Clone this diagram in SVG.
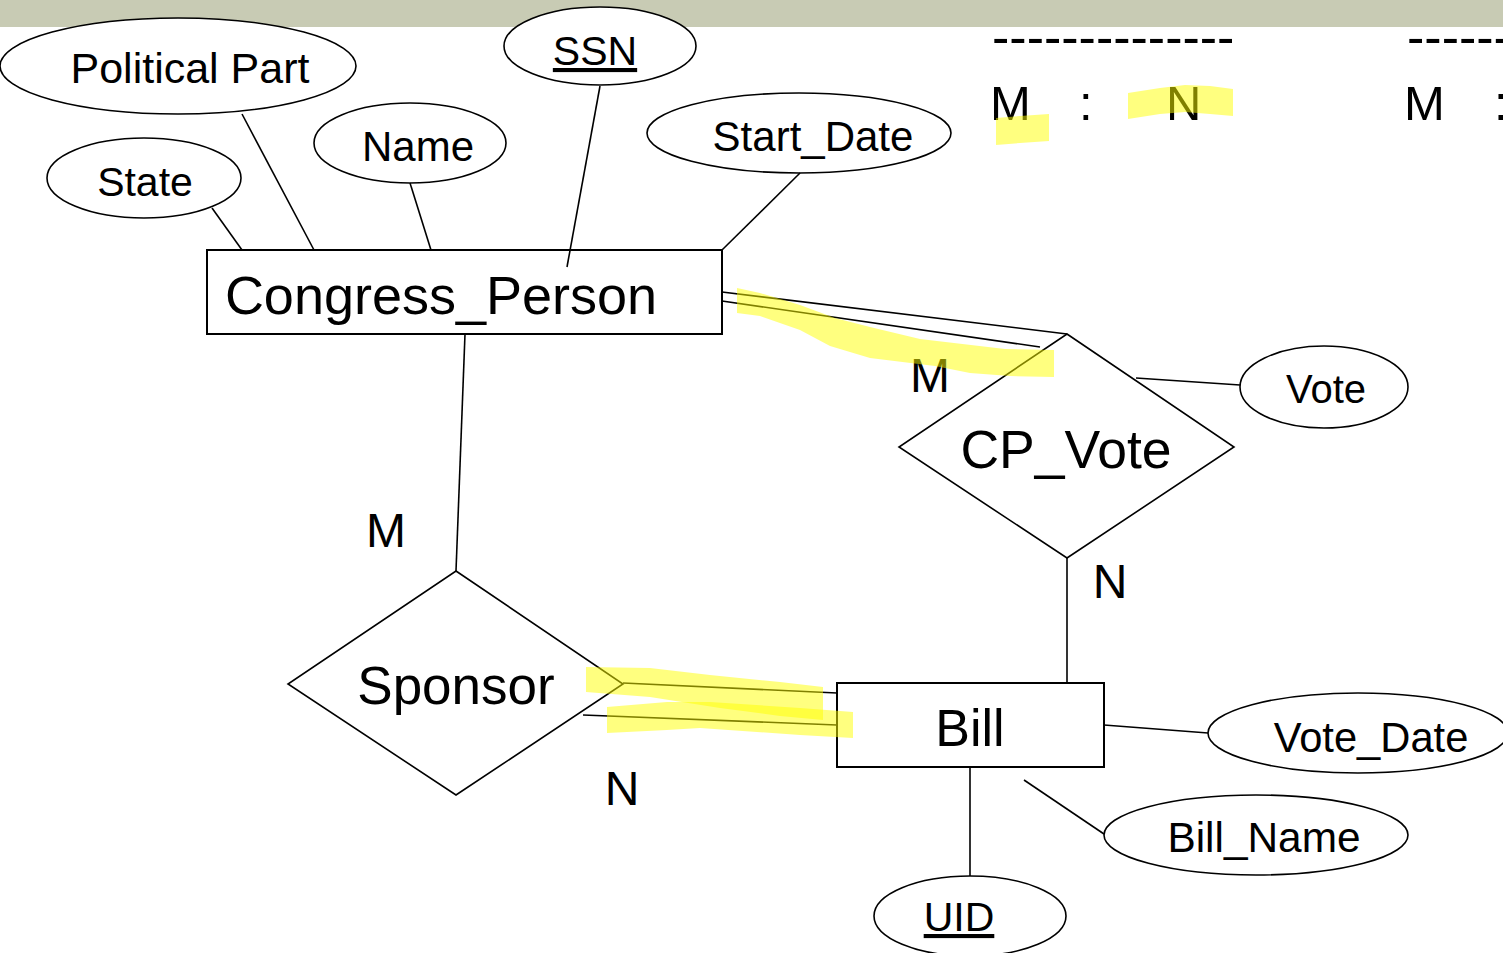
<svg xmlns="http://www.w3.org/2000/svg" width="1503" height="953" viewBox="0 0 1503 953">
<style>
  text { font-family: "Liberation Sans", Arial, sans-serif; fill: #000; }
  .c { text-anchor: middle; }
  .shape { fill: #fff; stroke: #000; stroke-width: 1.6; }
  .ent { fill: #fff; stroke: #000; stroke-width: 2; }
  .ln { stroke: #000; stroke-width: 1.6; fill: none; }
  .hl { fill: #ffff00; fill-opacity: 0.5; stroke: none; }
  .u { text-decoration: underline; }
</style>
<rect x="0" y="0" width="1503" height="953" fill="#fff"/>
<rect x="0" y="0" width="1503" height="27" fill="#c8cbb4"/>

<g id="political_part">
  <ellipse class="shape" cx="178" cy="66" rx="178" ry="48"/>
  <text class="c" x="190" y="83" font-size="43">Political Part</text>
</g>
<g id="ssn">
  <ellipse class="shape" cx="600" cy="46" rx="96" ry="39"/>
  <text class="c u" x="595" y="65" font-size="41">SSN</text>
</g>
<g id="name">
  <ellipse class="shape" cx="410" cy="143" rx="96" ry="40"/>
  <text class="c" x="418" y="161" font-size="42">Name</text>
</g>
<g id="state">
  <ellipse class="shape" cx="144" cy="178" rx="97" ry="40"/>
  <text class="c" x="145" y="196" font-size="41">State</text>
</g>
<g id="start_date">
  <ellipse class="shape" cx="799" cy="133" rx="152" ry="40"/>
  <text class="c" x="813" y="151" font-size="42">Start_Date</text>
</g>
<g id="congress_person">
  <rect class="ent" x="207" y="250" width="515" height="84"/>
  <text class="c" x="441" y="314" font-size="54">Congress_Person</text>
</g>
<g id="cp_vote">
  <polygon class="shape" points="1067,334 1234,447 1067,558 899,447"/>
  <text class="c" x="1066" y="468" font-size="53.5">CP_Vote</text>
</g>
<g id="vote">
  <ellipse class="shape" cx="1324" cy="387" rx="84" ry="41"/>
  <text class="c" x="1326" y="403" font-size="40">Vote</text>
</g>
<g id="sponsor">
  <polygon class="shape" points="456,571 623,684 456,795 288,684"/>
  <text class="c" x="456" y="704" font-size="53">Sponsor</text>
</g>
<g id="bill">
  <rect class="ent" x="837" y="683" width="267" height="84"/>
  <text class="c" x="970" y="746" font-size="52">Bill</text>
</g>
<g id="vote_date">
  <ellipse class="shape" cx="1358" cy="733" rx="150" ry="40"/>
  <text class="c" x="1371" y="752" font-size="41.7">Vote_Date</text>
</g>
<g id="bill_name">
  <ellipse class="shape" cx="1256" cy="835" rx="152" ry="40"/>
  <text class="c" x="1264" y="852" font-size="42.4">Bill_Name</text>
</g>
<g id="uid">
  <ellipse class="shape" cx="970" cy="916" rx="96" ry="40"/>
  <text class="c u" x="959" y="931" font-size="41">UID</text>
</g>

<g id="connectors">
  <line class="ln" x1="212" y1="208" x2="242" y2="250"/>
  <line class="ln" x1="242" y1="114" x2="314" y2="250"/>
  <line class="ln" x1="410" y1="183" x2="431" y2="250"/>
  <line class="ln" x1="600" y1="86" x2="567" y2="267"/>
  <line class="ln" x1="800" y1="173" x2="722" y2="250"/>
  <line class="ln" x1="722" y1="292" x2="1067" y2="334"/>
  <line class="ln" x1="722" y1="301" x2="1040" y2="347"/>
  <line class="ln" x1="465" y1="334" x2="456" y2="571"/>
  <line class="ln" x1="1067" y1="558" x2="1067" y2="683"/>
  <line class="ln" x1="1136" y1="378" x2="1240" y2="385"/>
  <line class="ln" x1="623" y1="683" x2="837" y2="693"/>
  <line class="ln" x1="583" y1="715" x2="837" y2="725"/>
  <line class="ln" x1="1104" y1="725" x2="1208" y2="733"/>
  <line class="ln" x1="1024" y1="780" x2="1104" y2="834"/>
  <line class="ln" x1="970" y1="767" x2="970" y2="876"/>
</g>

<g id="cardinalities">
  <text class="c" x="930" y="392" font-size="48">M</text>
  <text class="c" x="386" y="547" font-size="48">M</text>
  <text class="c" x="1110" y="598" font-size="48">N</text>
  <text class="c" x="622" y="805" font-size="48">N</text>
</g>

<g id="legend">
  <text x="992" y="55" font-size="52">--------------</text>
  <text x="1407" y="55" font-size="52">-------</text>
  <text y="120" font-size="49"><tspan x="990">M</tspan><tspan x="1079">:</tspan><tspan x="1166">N</tspan></text>
  <text y="120" font-size="49"><tspan x="1404">M</tspan><tspan x="1494">:</tspan></text>
</g>

<g id="highlights">
  <polygon class="hl" points="996,118 1020,116 1049,114 1049,141 1020,143 996,145"/>
  <polygon class="hl" points="1128,93 1160,88 1185,85 1210,86 1233,89 1233,116 1210,114 1185,112 1160,114 1128,119"/>
  <polygon class="hl" points="737,288 760,293 800,305 835,318 870,327 920,339 1005,349 1054,350 1054,377 1010,376 970,373 935,366 870,358 830,346 800,330 760,316 737,313"/>
  <polygon class="hl" points="586,667 650,668 710,675 780,682 823,687 823,720 780,716 720,708 650,697 586,692"/>
  <polygon class="hl" points="607,707 667,702 710,702 800,708 853,712 853,738 800,735 700,728 667,730 607,733"/>
</g>
</svg>
